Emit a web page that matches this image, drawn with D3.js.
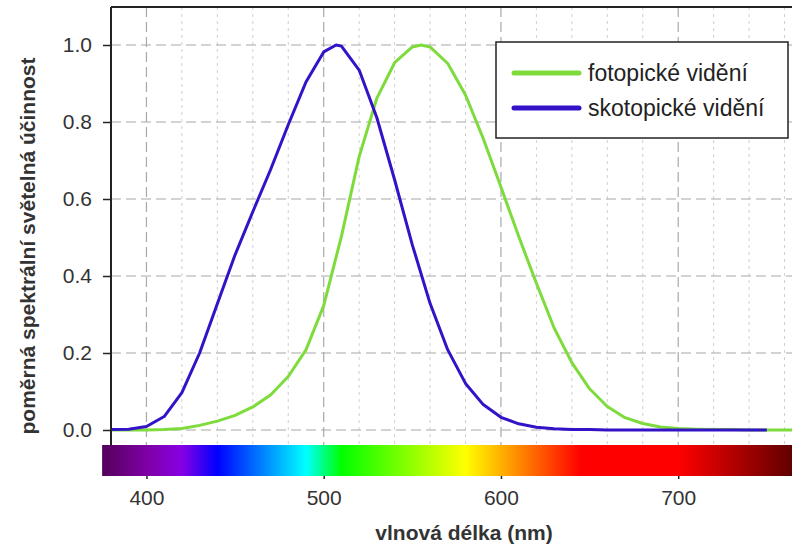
<!DOCTYPE html>
<html>
<head>
<meta charset="utf-8">
<script src="https://cdn.jsdelivr.net/npm/d3@7"></script>
<style>
    body { margin: 0; background: #fff; }
    svg { display: block; font-family: "Liberation Sans", Arial, sans-serif; }
    .grid-major line { stroke: #a8a8a8; stroke-width: 1.2; stroke-dasharray: 10,5; }
    .grid-minor line { stroke: #cfcfcf; stroke-width: 1; stroke-dasharray: 3,4; }
    .axis text { font-size: 21px; fill: #333; }
    .axis line { stroke: #222; stroke-width: 1.5; }
    .axis-title { font-size: 21px; font-weight: bold; fill: #333; }
    .legend-text { font-size: 23px; fill: #222; }
</style>
</head>
<body>
<svg id="chart"></svg>
<script>
// photopic luminous efficiency
const photopicNm = [380, 390, 400, 410, 420, 430, 440, 450, 460, 470, 480, 490, 500, 510, 520, 530, 540, 550, 555,
    560, 570, 580, 590, 600, 610, 620, 630, 640, 650, 660, 670, 680, 690, 700, 710, 720, 730, 740, 750, 760, 770, 780];
const photopicValues = [0.000, 0.000, 0.000, 0.001, 0.004, 0.012, 0.023, 0.038, 0.060, 0.091, 0.139, 0.208, 0.323, 0.503, 0.710, 0.862, 0.954, 0.995, 1.000,
    0.995, 0.952, 0.870, 0.757, 0.631, 0.503, 0.381, 0.265, 0.175, 0.107, 0.061, 0.032, 0.017, 0.008, 0.004, 0.002, 0.001, 0.001, 0.000, 0.000, 0.000, 0.000, 0.000];

// scotopic luminous efficiency
const scotopicNm = [380, 390, 400, 410, 420, 430, 440, 450, 460, 470, 480, 490, 500, 507, 510, 520, 530, 540, 550,
    560, 570, 580, 590, 600, 610, 620, 630, 640, 650, 660, 670, 680, 690, 700, 710, 720, 730, 740, 750];
const scotopicValues = [0.001, 0.002, 0.009, 0.035, 0.097, 0.200, 0.328, 0.455, 0.567, 0.676, 0.793, 0.904, 0.982, 1.000, 0.997, 0.935, 0.811, 0.650, 0.481,
    0.329, 0.208, 0.121, 0.066, 0.033, 0.016, 0.007, 0.003, 0.001, 0.001, 0.000, 0.000, 0.000, 0.000, 0.000, 0.000, 0.000, 0.000, 0.000, 0.000];

const seriesNames = ['fotopické vidění', 'skotopické vidění'];
const seriesColors = ['#7ddc3c', '#3312c8'];

const xTicks = [400, 500, 600, 700];
const xMinorTicks = [380, 400, 420, 440, 460, 480, 500, 520, 540, 560, 580, 600, 620, 640, 660, 680, 700, 720, 740, 760, 780];
const yTicks = [0.0, 0.2, 0.4, 0.6, 0.8, 1.0];

// colour bar under the plot
const spectrumNm = [375, 400, 420, 440, 490, 510, 580, 645, 700, 780];
const spectrumColors = ['#55005a', '#7e00a4', '#8600e4', '#0000ff', '#00ffff', '#00ff00', '#ffff00', '#ff0000', '#ff0000', '#3a0000'];

const width = 792, height = 544;
const plotLeft = 111, plotTop = 7, plotBottom = 445;
const barTop = 445, barBottom = 476;

const svg = d3.select('#chart')
    .attr('width', width)
    .attr('height', height);

// scales
const xScale = d3.scaleLinear().domain([380, 780]).range([plotLeft, plotLeft + 400 * 1.7725]);
const yScale = d3.scaleLinear().domain([0, 1]).range([430, 45]);

svg.append('defs').append('clipPath')
    .attr('id', 'plot-clip')
    .append('rect')
    .attr('x', plotLeft)
    .attr('y', plotTop)
    .attr('width', width - plotLeft)
    .attr('height', plotBottom - plotTop);

// minor grid (every 20 nm)
svg.append('g')
    .attr('class', 'grid-minor')
    .selectAll('line')
    .data(xMinorTicks.filter(d => !xTicks.includes(d) && xScale(d) > plotLeft + 1 && xScale(d) < width))
    .join('line')
    .attr('x1', d => xScale(d)).attr('x2', d => xScale(d))
    .attr('y1', plotTop).attr('y2', plotBottom);

// major grid
const major = svg.append('g').attr('class', 'grid-major');
major.selectAll('.vx')
    .data(xTicks)
    .join('line')
    .attr('class', 'vx')
    .attr('x1', d => xScale(d)).attr('x2', d => xScale(d))
    .attr('y1', plotTop).attr('y2', plotBottom);
major.selectAll('.hy')
    .data(yTicks)
    .join('line')
    .attr('class', 'hy')
    .attr('x1', plotLeft).attr('x2', width)
    .attr('y1', d => yScale(d)).attr('y2', d => yScale(d));

// curves
const line = d3.line()
    .x(d => xScale(d[0]))
    .y(d => yScale(d[1]));

const curves = svg.append('g').attr('clip-path', 'url(#plot-clip)');
curves.append('path')
    .datum(photopicNm.map((d, i) => [d, photopicValues[i]]))
    .attr('fill', 'none')
    .attr('stroke', seriesColors[0])
    .attr('stroke-width', 3)
    .attr('stroke-linejoin', 'round')
    .attr('d', line);
curves.append('path')
    .datum(scotopicNm.map((d, i) => [d, scotopicValues[i]]))
    .attr('fill', 'none')
    .attr('stroke', seriesColors[1])
    .attr('stroke-width', 3)
    .attr('stroke-linejoin', 'round')
    .attr('d', line);

// frame: left axis line and top line
svg.append('line')
    .attr('x1', plotLeft).attr('x2', plotLeft)
    .attr('y1', plotTop).attr('y2', plotBottom)
    .attr('stroke', '#222').attr('stroke-width', 2);
svg.append('line')
    .attr('x1', plotLeft).attr('x2', width)
    .attr('y1', plotTop).attr('y2', plotTop)
    .attr('stroke', '#222').attr('stroke-width', 2);

// y axis
const yAxisG = svg.append('g')
    .attr('class', 'axis y-axis')
    .attr('transform', `translate(${plotLeft},0)`)
    .call(d3.axisLeft(yScale).tickValues(yTicks).tickFormat(d3.format('.1f')).tickSize(8).tickPadding(11));
yAxisG.select('.domain').remove();

// spectrum bar
const grad = svg.select('defs').append('linearGradient')
    .attr('id', 'spectrum')
    .attr('gradientUnits', 'userSpaceOnUse')
    .attr('x1', xScale(spectrumNm[0]))
    .attr('x2', xScale(spectrumNm[spectrumNm.length - 1]))
    .attr('y1', 0).attr('y2', 0);
const span = spectrumNm[spectrumNm.length - 1] - spectrumNm[0];
grad.selectAll('stop')
    .data(spectrumNm)
    .join('stop')
    .attr('offset', d => (d - spectrumNm[0]) / span)
    .attr('stop-color', (d, i) => spectrumColors[i]);

svg.append('rect')
    .attr('x', xScale(375))
    .attr('y', barTop)
    .attr('width', width - xScale(375))
    .attr('height', barBottom - barTop)
    .attr('fill', 'url(#spectrum)');

// x axis below the bar
const xAxisG = svg.append('g')
    .attr('class', 'axis x-axis')
    .attr('transform', `translate(0,${barBottom})`)
    .call(d3.axisBottom(xScale).tickValues(xTicks).tickSize(3).tickPadding(11));
xAxisG.select('.domain').remove();
xAxisG.selectAll('line').attr('stroke', '#bbb');

// axis titles
svg.append('text')
    .attr('class', 'axis-title')
    .attr('text-anchor', 'middle')
    .attr('x', 464)
    .attr('y', 540)
    .text('vlnová délka (nm)');

svg.append('text')
    .attr('class', 'axis-title')
    .attr('text-anchor', 'middle')
    .attr('transform', 'translate(35,246) rotate(-90)')
    .text('poměrná spektrální světelná účinnost');

// legend
const legend = svg.append('g').attr('class', 'legend');
legend.append('rect')
    .attr('x', 496).attr('y', 42)
    .attr('width', 292).attr('height', 96)
    .attr('fill', '#fff')
    .attr('stroke', '#222')
    .attr('stroke-width', 1.5);

const items = legend.selectAll('.item')
    .data(seriesNames)
    .join('g')
    .attr('class', 'item')
    .attr('transform', (d, i) => `translate(0,${73 + i * 35})`);
items.append('line')
    .attr('x1', 514).attr('x2', 579)
    .attr('y1', 0).attr('y2', 0)
    .attr('stroke', (d, i) => seriesColors[i])
    .attr('stroke-width', 5)
    .attr('stroke-linecap', 'round');
items.append('text')
    .attr('class', 'legend-text')
    .attr('x', 588)
    .attr('y', 8)
    .text(d => d);
</script>
</body>
</html>
